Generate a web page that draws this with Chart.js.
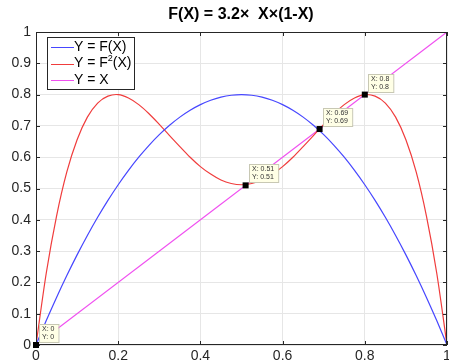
<!DOCTYPE html>
<html>
<head>
<meta charset="utf-8">
<script src="https://cdn.jsdelivr.net/npm/chart.js@4/dist/chart.umd.min.js"></script>
<style>
  html, body { margin: 0; padding: 0; background: #fff; }
  #wrap { width: 449px; height: 364px; }
</style>
</head>
<body>
<div id="wrap"><canvas id="myChart" width="449" height="364"></canvas></div>
<script>
// values
var xs = [0, 0.025, 0.05, 0.075, 0.1, 0.125, 0.15, 0.175, 0.2, 0.225, 0.25, 0.275, 0.3, 0.325, 0.35, 0.375, 0.4, 0.425, 0.45, 0.475, 0.5,
  0.525, 0.55, 0.575, 0.6, 0.625, 0.65, 0.675, 0.7, 0.725, 0.75, 0.775, 0.8, 0.825, 0.85, 0.875, 0.9, 0.925, 0.95, 0.975, 1];
var fValues = [0, 0.078, 0.152, 0.222, 0.288, 0.35, 0.408, 0.462, 0.512, 0.558, 0.6, 0.638, 0.672, 0.702, 0.728, 0.75, 0.768, 0.782, 0.792, 0.798, 0.8,
  0.798, 0.792, 0.782, 0.768, 0.75, 0.728, 0.702, 0.672, 0.638, 0.6, 0.558, 0.512, 0.462, 0.408, 0.35, 0.288, 0.222, 0.152, 0.078, 0];
var f2Values = [0, 0.23, 0.412, 0.553, 0.656, 0.728, 0.773, 0.795, 0.8, 0.789, 0.768, 0.739, 0.705, 0.669, 0.634, 0.6, 0.57, 0.546, 0.527, 0.516, 0.512,
  0.516, 0.527, 0.546, 0.57, 0.6, 0.634, 0.669, 0.705, 0.739, 0.768, 0.789, 0.8, 0.795, 0.773, 0.728, 0.656, 0.553, 0.412, 0.23, 0];
var lineX = [0, 1];
var lineY = [0, 1];
var tipX = [0, 0.51, 0.69, 0.8];
var tipY = [0, 0.51, 0.69, 0.8];
var tipText = [["X: 0", "Y: 0"], ["X: 0.51", "Y: 0.51"], ["X: 0.69", "Y: 0.69"], ["X: 0.8", "Y: 0.8"]];
var seriesNames = ["Y = F(X)", "Y = F", "Y = X"];
var seriesColors = ['#4646ff', '#f03c3c', '#f050f0'];

var FONT = "'Liberation Sans', Helvetica, Arial, sans-serif";

function toPoints(x, y) {
  const pts = []
  x.forEach((v, i) => pts.push({ x: v, y: y[i] }))
  return pts
}

// box, title, legend and datatips drawn on top
var extras = {
  id: 'extras',
  afterDraw(chart) {
    const ctx = chart.ctx
    const a = chart.chartArea
    const sx = chart.scales.x, sy = chart.scales.y
    ctx.save()
    // axes box
    ctx.strokeStyle = '#262626'
    ctx.lineWidth = 1
    ctx.strokeRect(a.left + 0.5, a.top + 0.5, a.right - a.left - 1, a.bottom - a.top - 1)
    // inward tick marks
    ctx.beginPath()
    sx.ticks.forEach(t => {
      const px = Math.round(sx.getPixelForValue(t.value)) + 0.5
      ctx.moveTo(px, a.bottom); ctx.lineTo(px, a.bottom - 4)
      ctx.moveTo(px, a.top); ctx.lineTo(px, a.top + 4)
    })
    sy.ticks.forEach(t => {
      const py = Math.round(sy.getPixelForValue(t.value)) + 0.5
      ctx.moveTo(a.left, py); ctx.lineTo(a.left + 4, py)
      ctx.moveTo(a.right, py); ctx.lineTo(a.right - 4, py)
    })
    ctx.stroke()

    // title
    ctx.fillStyle = '#000'
    ctx.font = 'bold 16px ' + FONT
    ctx.textAlign = 'center'
    ctx.textBaseline = 'middle'
    ctx.fillText('F(X) = 3.2\u00d7  X\u00d7(1-X)', 241, 15)

    // legend
    const lx = 47, ly = 37, lw = 87, lh = 52
    ctx.fillStyle = '#fff'
    ctx.fillRect(lx, ly, lw, lh)
    ctx.strokeStyle = '#262626'
    ctx.strokeRect(lx + 0.5, ly + 0.5, lw, lh)
    ctx.textAlign = 'left'
    ctx.textBaseline = 'middle'
    seriesColors.forEach((c, i) => {
      const yy = ly + 10 + i * 16.5
      ctx.strokeStyle = c
      ctx.beginPath()
      ctx.moveTo(lx + 4, Math.round(yy) + 0.5)
      ctx.lineTo(lx + 27, Math.round(yy) + 0.5)
      ctx.stroke()
      ctx.fillStyle = '#000'
      ctx.font = '14px ' + FONT
      ctx.fillText(seriesNames[i], lx + 27, yy)
      if (i === 1) {
        let w = ctx.measureText(seriesNames[i]).width
        ctx.font = '9px ' + FONT
        ctx.fillText('2', lx + 27 + w, yy - 5)
        w += ctx.measureText('2').width
        ctx.font = '14px ' + FONT
        ctx.fillText('(X)', lx + 27 + w, yy)
      }
    })

    // datatips
    tipX.forEach((v, i) => {
      const px = sx.getPixelForValue(v)
      const py = sy.getPixelForValue(tipY[i])
      ctx.fillStyle = '#000'
      ctx.fillRect(px - 3, py - 3, 6, 6)
      ctx.font = '7px ' + FONT
      const tw = Math.max(ctx.measureText(tipText[i][0]).width, ctx.measureText(tipText[i][1]).width)
      const bx = Math.round(px + 3), by = Math.round(py - 21)
      ctx.fillStyle = '#ffffe6'
      ctx.fillRect(bx, by, tw + 7, 18)
      ctx.strokeStyle = '#c8c8b4'
      ctx.strokeRect(bx + 0.5, by + 0.5, tw + 7, 18)
      ctx.fillStyle = '#333'
      ctx.textBaseline = 'middle'
      ctx.fillText(tipText[i][0], bx + 3, by + 5.5)
      ctx.fillText(tipText[i][1], bx + 3, by + 13.5)
    })
    ctx.restore()
  }
}

var chart = new Chart(document.getElementById('myChart'), {
  type: 'scatter',
  data: {
    datasets: [
      { label: seriesNames[0], data: toPoints(xs, fValues), borderColor: seriesColors[0], borderWidth: 1.2, showLine: true, pointRadius: 0, tension: 0.3, fill: false },
      { label: 'Y = F2(X)', data: toPoints(xs, f2Values), borderColor: seriesColors[1], borderWidth: 1.2, showLine: true, pointRadius: 0, tension: 0.3, fill: false },
      { label: seriesNames[2], data: toPoints(lineX, lineY), borderColor: seriesColors[2], borderWidth: 1.2, showLine: true, pointRadius: 0, fill: false }
    ]
  },
  options: {
    responsive: false,
    animation: false,
    layout: { padding: { top: 32, right: 2, left: 0, bottom: 0 } },
    plugins: {
      legend: { display: false },
      title: { display: false },
      tooltip: { enabled: false }
    },
    scales: {
      x: {
        type: 'linear', min: 0, max: 1,
        ticks: { stepSize: 0.2, color: '#262626', font: { family: FONT, size: 14 }, padding: 3, maxRotation: 0,
          callback: v => String(Math.round(v * 10) / 10) },
        grid: { color: '#e6e6e6', drawTicks: false },
        border: { display: false },
        afterFit: s => { s.height = 19; s.paddingLeft = 0; s.paddingRight = 0 }
      },
      y: {
        min: 0, max: 1,
        ticks: { stepSize: 0.1, color: '#262626', font: { family: FONT, size: 14 }, padding: 5,
          callback: v => String(Math.round(v * 10) / 10) },
        grid: { color: '#e6e6e6', drawTicks: false },
        border: { display: false },
        afterFit: s => { s.width = 36; s.paddingTop = 0; s.paddingBottom = 0 }
      }
    }
  },
  plugins: [extras]
});
</script>
</body>
</html>
